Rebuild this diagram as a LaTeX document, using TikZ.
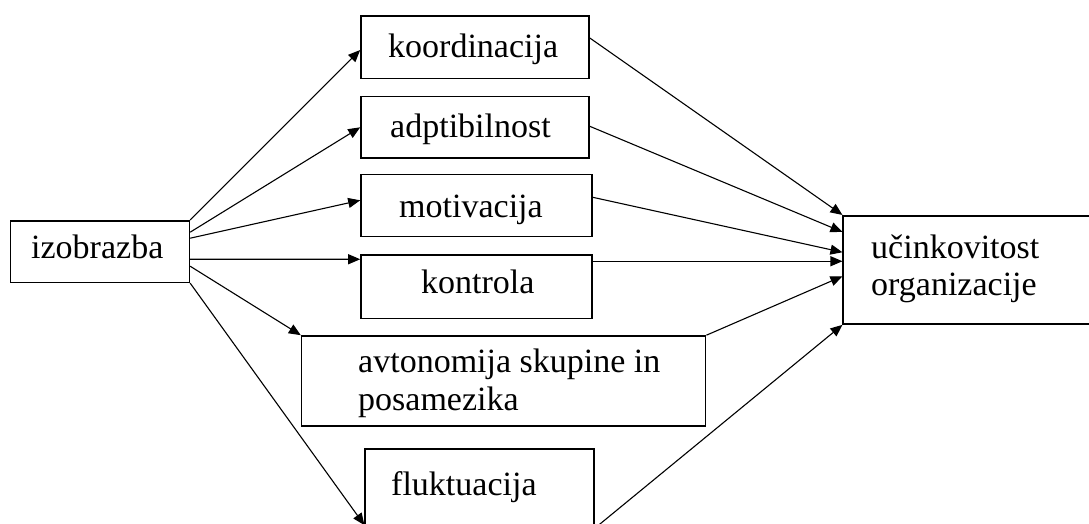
\documentclass[tikz,border=0pt]{standalone}
\usepackage{fontspec}
\setmainfont{Liberation Serif}
\usetikzlibrary{arrows.meta}
\begin{document}
\begin{tikzpicture}[x=1pt,y=-1pt,
  box/.style={draw, line width=1.6pt, rectangle, inner sep=0pt},
  lbl/.style={inner sep=0pt, anchor=base west, align=left, font=\fontsize{34}{38}\selectfont},
  arr/.style={line width=1.1pt, -{Triangle[length=12pt,width=10pt]}}]
\useasboundingbox (0,0) rectangle (1089,523);
\clip (0,0) rectangle (1089,523);
% boxes
\node[box, minimum width=178.7pt, minimum height=61.6pt] (izob) at (100,251.5) {};
\node[box, minimum width=228pt, minimum height=62.6pt] (koord) at (475,47) {};
\node[box, minimum width=228pt, minimum height=61.3pt] (adpt) at (475,127.3) {};
\node[box, minimum width=231pt, minimum height=62pt] (motiv) at (476.5,205.3) {};
\node[box, minimum width=231pt, minimum height=63.3pt] (kontr) at (476.5,286.7) {};
\node[box, minimum width=404pt, minimum height=90pt] (avton) at (503.6,381) {};
\node[box, minimum width=228.5pt, minimum height=96.7pt] (flukt) at (479.5,497.3) {};
\node[box, minimum width=256.7pt, minimum height=108.3pt] (ucin) at (971.6,269.9) {};
% labels (multi-line labels are anchored at the baseline of their last line)
\node[lbl] (izobT) at (31,258) {izobrazba};
\node[lbl] (koordT) at (388,57) {koordinacija};
\node[lbl] (adptT) at (390,137) {adptibilnost};
\node[lbl] (motivT) at (399,217) {motivacija};
\node[lbl] (kontrT) at (421,293) {kontrola};
\node[lbl] (avtonT) at (358,410) {avtonomija skupine in\\posamezika};
\node[lbl] (fluktT) at (391,495) {fluktuacija};
\node[lbl, font=\fontsize{34}{37}\selectfont] (ucinT) at (871,295) {učinkovitost\\organizacije};
% arrows from izobrazba
\draw[arr] (izob.north east) -- ([yshift=-3pt]koord.west);
\draw[arr] ([yshift=-12.3pt]izob.north east) -- (adpt.west);
\draw[arr] ([yshift=-18.3pt]izob.north east) -- ([yshift=5pt]motiv.west);
\draw[arr] ([yshift=-39.3pt]izob.north east) -- ([yshift=-5pt]kontr.north west);
\draw[arr] ([yshift=-46.3pt]izob.north east) -- (avton.north west);
\draw[arr] (izob.south east) -- ([yshift=-77pt]flukt.north west);
% arrows to ucinkovitost
\draw[arr] ([yshift=9pt]koord.east) -- (ucin.north west);
\draw[arr] ([yshift=1pt]adpt.east) -- ([yshift=-17pt]ucin.north west);
\draw[arr] ([yshift=8pt]motiv.east) -- ([yshift=-37.3pt]ucin.north west);
\draw[arr] ([yshift=-7pt]kontr.north east) -- ([yshift=-46.3pt]ucin.north west);
\draw[arr] (avton.north east) -- ([yshift=-61.3pt]ucin.north west);
\draw[arr] ([yshift=-80.3pt]flukt.north east) -- (ucin.south west);
\end{tikzpicture}
\end{document}
